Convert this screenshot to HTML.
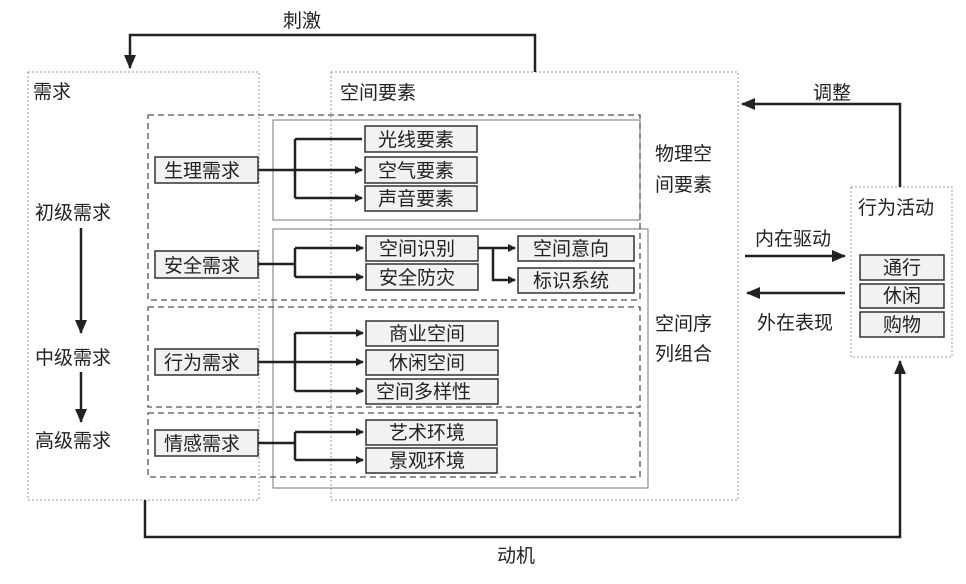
<!DOCTYPE html>
<html><head><meta charset="utf-8"><style>
body{margin:0;background:#fff}
text{font-family:"Liberation Sans","Noto Sans CJK SC",sans-serif;font-size:19px;fill:#222}
.n{fill:#f2f2f2;stroke:#333;stroke-width:1.5}
.l{stroke:#222;stroke-width:2.5;fill:none}
</style></head><body>
<svg width="966" height="579" viewBox="0 0 966 579" xmlns="http://www.w3.org/2000/svg">
<defs><marker id="a" markerWidth="8" markerHeight="8" refX="7" refY="4" orient="auto" markerUnits="userSpaceOnUse"><path d="M0,0 L8,4 L0,8z" fill="#222"/></marker>
<marker id="b" markerWidth="14" markerHeight="12" refX="13" refY="6" orient="auto" markerUnits="userSpaceOnUse"><path d="M0,0 L14,6 L0,12z" fill="#222"/></marker></defs>
<!-- dotted containers -->
<rect x="28" y="72" width="231" height="428" fill="none" stroke="#999" stroke-dasharray="2,2"/>
<rect x="331" y="72" width="407" height="428" fill="none" stroke="#999" stroke-dasharray="2,2"/>
<rect x="851" y="187" width="101" height="170" fill="none" stroke="#999" stroke-dasharray="2,2"/>
<!-- solid groups -->
<rect x="273" y="120" width="367" height="100" fill="none" stroke="#777"/>
<rect x="273" y="229" width="375" height="259" fill="none" stroke="#777"/>
<!-- dashed groups -->
<g fill="none" stroke="#555" stroke-width="1.3" stroke-dasharray="6,4">
<rect x="148" y="115" width="492" height="185"/>
<rect x="148" y="307" width="492" height="100"/>
<rect x="148" y="413" width="492" height="64"/>
</g>
<text x="33" y="98">需求</text>
<text x="340" y="99">空间要素</text>
<text x="35" y="219">初级需求</text>
<text x="35" y="364">中级需求</text>
<text x="35" y="447">高级需求</text>
<line class="l" x1="81" y1="228" x2="81" y2="333" marker-end="url(#b)"/>
<line class="l" x1="81" y1="372" x2="81" y2="422" marker-end="url(#b)"/>
<text x="655" y="160">物理空</text><text x="655" y="191">间要素</text>
<text x="655" y="330">空间序</text><text x="655" y="360">列组合</text>
<!-- need boxes -->
<g>
<rect class="n" x="155" y="157" width="103" height="26"/><text x="164" y="177">生理需求</text>
<rect class="n" x="155" y="251" width="103" height="27"/><text x="164" y="272">安全需求</text>
<rect class="n" x="155" y="349" width="103" height="26"/><text x="164" y="369">行为需求</text>
<rect class="n" x="155" y="430" width="103" height="26"/><text x="164" y="450">情感需求</text>
</g>
<!-- element boxes -->
<g>
<rect class="n" x="365" y="126" width="112" height="26"/><text x="378" y="146">光线要素</text>
<rect class="n" x="365" y="157" width="112" height="26"/><text x="378" y="177">空气要素</text>
<rect class="n" x="365" y="186" width="112" height="25"/><text x="378" y="205">声音要素</text>
<rect class="n" x="366" y="236" width="112" height="25"/><text x="379" y="255">空间识别</text>
<rect class="n" x="366" y="264" width="112" height="26"/><text x="379" y="284">安全防灾</text>
<rect class="n" x="518" y="236" width="116" height="25"/><text x="533" y="255">空间意向</text>
<rect class="n" x="518" y="268" width="116" height="25"/><text x="533" y="287">标识系统</text>
<rect class="n" x="366" y="321" width="132" height="25"/><text x="389" y="340">商业空间</text>
<rect class="n" x="366" y="350" width="132" height="25"/><text x="389" y="369">休闲空间</text>
<rect class="n" x="366" y="379" width="132" height="25"/><text x="376" y="398">空间多样性</text>
<rect class="n" x="366" y="420" width="131" height="25"/><text x="389" y="439">艺术环境</text>
<rect class="n" x="366" y="448" width="131" height="25"/><text x="389" y="467">景观环境</text>
</g>
<!-- connectors -->
<g class="l">
<path d="M258,170 H362" marker-end="url(#a)"/>
<path d="M295,139 V198 M295,139 H362 M295,198 H362" marker-end="url(#a)"/>
<path d="M258,264 H295 M295,248 V277"/>
<path d="M295,248 H363" marker-end="url(#a)"/>
<path d="M295,277 H363" marker-end="url(#a)"/>
<path d="M478,248 H515" marker-end="url(#a)"/>
<path d="M493,248 V280 H515" marker-end="url(#a)"/>
<path d="M258,362 H363" marker-end="url(#a)"/>
<path d="M295,333 V391"/>
<path d="M295,333 H363" marker-end="url(#a)"/>
<path d="M295,391 H363" marker-end="url(#a)"/>
<path d="M258,443 H295 M295,432 V460"/>
<path d="M295,432 H363" marker-end="url(#a)"/>
<path d="M295,460 H363" marker-end="url(#a)"/>
</g>
<!-- outer arrows -->
<path class="l" d="M535,72 V35 H130 V68" marker-end="url(#b)"/>
<text x="283" y="27">刺激</text>
<path class="l" d="M900,187 V104 H742" marker-end="url(#b)"/>
<text x="813" y="99">调整</text>
<line class="l" x1="745" y1="256" x2="845" y2="256" marker-end="url(#b)"/>
<text x="755" y="245">内在驱动</text>
<line class="l" x1="845" y1="293" x2="747" y2="293" marker-end="url(#b)"/>
<text x="757" y="329">外在表现</text>
<path class="l" d="M145,500 V537 H900 V361" marker-end="url(#b)"/>
<text x="497" y="562">动机</text>
<text x="858" y="214">行为活动</text>
<rect class="n" x="860" y="255" width="84" height="25"/><text x="883" y="274">通行</text>
<rect class="n" x="860" y="284" width="84" height="24"/><text x="883" y="302">休闲</text>
<rect class="n" x="860" y="312" width="84" height="25"/><text x="883" y="331">购物</text>
</svg>
</body></html>
